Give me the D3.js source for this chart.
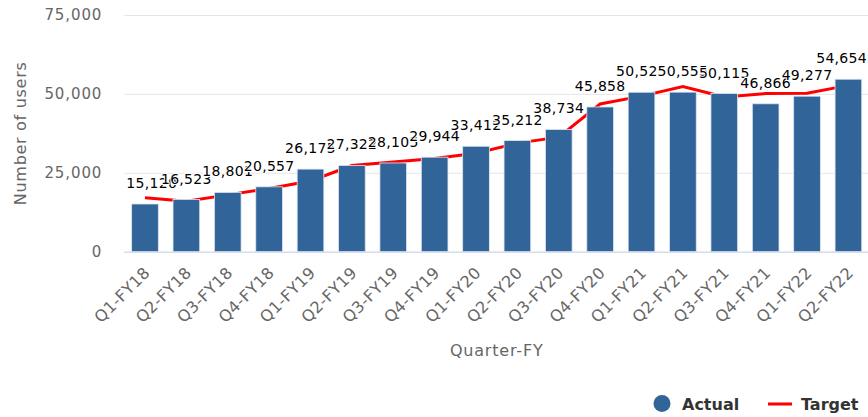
<!DOCTYPE html>
<html>
<head>
<meta charset="utf-8">
<script src="https://cdn.jsdelivr.net/npm/d3@7"></script>
<style>
  body { margin: 0; background: #fff; }
  svg { display: block; font-family: "DejaVu Sans", sans-serif; }
</style>
</head>
<body>
<svg id="chart"></svg>
<script>
const quarters = ['Q1-FY18', 'Q2-FY18', 'Q3-FY18', 'Q4-FY18', 'Q1-FY19', 'Q2-FY19',
  'Q3-FY19', 'Q4-FY19', 'Q1-FY20', 'Q2-FY20', 'Q3-FY20', 'Q4-FY20',
  'Q1-FY21', 'Q2-FY21', 'Q3-FY21', 'Q4-FY21', 'Q1-FY22', 'Q2-FY22'];
const actual = [15120, 16523, 18801, 20557, 26175, 27322, 28105, 29944, 33412,
  35212, 38734, 45858, 50525, 50555, 50115, 46866, 49277, 54654];
const target = [17100, 16000, 18000, 20000, 22400, 27300, 28400, 29500, 31200,
  34400, 36300, 46800, 49300, 52300, 49000, 50100, 50200, 52700];
const yTicks = [0, 25000, 50000, 75000];

const width = 868;
const height = 417;
const plotLeft = 124.3;
const plotRight = 869.1;
const plotTop = 15;
const plotBottom = 251.7;

const svg = d3.select('#chart')
  .attr('width', width)
  .attr('height', height);

const x = d3.scaleBand()
  .domain(quarters)
  .range([plotLeft, plotRight])
  .paddingInner(0.355)
  .paddingOuter(0.1775);

const y = d3.scaleLinear()
  .domain([0, 75000])
  .range([plotBottom, plotTop]);

const fmt = d3.format(',');
const cx = d => x(d) + x.bandwidth() / 2;

// grid + y labels
const yAxis = svg.append('g')
  .attr('transform', `translate(${plotLeft},0)`)
  .call(d3.axisLeft(y).tickValues(yTicks).tickSize(-(width - plotLeft)).tickFormat(fmt).tickPadding(22));
yAxis.select('.domain').remove();
yAxis.selectAll('.tick line').attr('stroke', '#e6e6e6');
yAxis.selectAll('.tick text')
  .attr('fill', '#666')
  .attr('font-size', 15)
  .attr('letter-spacing', 0.9)
  .attr('font-family', '"DejaVu Sans", sans-serif');

svg.append('text')
  .attr('transform', `translate(26,${(plotTop + plotBottom) / 2}) rotate(-90)`)
  .attr('text-anchor', 'middle')
  .attr('fill', '#666')
  .attr('font-size', 16)
  .attr('letter-spacing', 0.7)
  .text('Number of users');

// target line sits behind the bars
svg.append('path')
  .datum(target)
  .attr('fill', 'none')
  .attr('stroke', '#ff0000')
  .attr('stroke-width', 3)
  .attr('d', d3.line().x((d, i) => cx(quarters[i])).y(d => y(d)));

svg.append('g')
  .selectAll('rect')
  .data(actual)
  .enter().append('rect')
  .attr('x', (d, i) => x(quarters[i]))
  .attr('y', d => y(d))
  .attr('width', x.bandwidth())
  .attr('height', d => y(0) - y(d))
  .attr('fill', '#31659a')
  .attr('stroke', '#dfe6f0')
  .attr('stroke-width', 0.8);

// x axis
const xAxis = svg.append('g')
  .attr('transform', `translate(0,${plotBottom})`)
  .call(d3.axisBottom(x).tickSize(0).tickPadding(0));
xAxis.select('.domain')
  .attr('stroke', '#ccd6eb')
  .attr('d', `M${plotLeft},0.5H${width}`);
xAxis.selectAll('.tick text')
  .attr('fill', '#666')
  .attr('font-size', 16)
  .attr('letter-spacing', 0.4)
  .attr('font-family', '"DejaVu Sans", sans-serif')
  .attr('text-anchor', 'end')
  .attr('dy', null)
  .attr('y', null)
  .attr('transform', 'translate(6,22) rotate(-45)');

svg.append('text')
  .attr('x', (plotLeft + plotRight) / 2)
  .attr('y', 356)
  .attr('text-anchor', 'middle')
  .attr('fill', '#666')
  .attr('font-size', 16)
  .attr('letter-spacing', 0.8)
  .text('Quarter-FY');

// value labels, kept inside the plot like the original
const labels = svg.append('g')
  .selectAll('text')
  .data(actual)
  .enter().append('text')
  .attr('x', (d, i) => cx(quarters[i]))
  .attr('y', d => y(d) - 16)
  .attr('text-anchor', 'middle')
  .attr('font-size', 14)
  .attr('letter-spacing', 0.3)
  .attr('fill', '#000')
  .attr('stroke', '#fff')
  .attr('stroke-width', 2)
  .attr('paint-order', 'stroke')
  .text(d => fmt(d));

labels.each(function (d, i) {
  const w = this.getComputedTextLength();
  let px = cx(quarters[i]);
  px = Math.max(px, plotLeft + 2 + w / 2);
  px = Math.min(px, width - 1 - w / 2);
  d3.select(this).attr('x', px);
});

// legend
const legend = svg.append('g');
legend.append('circle')
  .attr('cx', 662).attr('cy', 403.5).attr('r', 8.5)
  .attr('fill', '#31659a');
legend.append('text')
  .attr('x', 682).attr('y', 410)
  .attr('font-size', 16).attr('font-weight', 'bold').attr('fill', '#333')
  .text('Actual');
legend.append('line')
  .attr('x1', 768).attr('x2', 792).attr('y1', 404).attr('y2', 404)
  .attr('stroke', '#ff0000').attr('stroke-width', 3);
legend.append('text')
  .attr('x', 801).attr('y', 410)
  .attr('font-size', 16).attr('font-weight', 'bold').attr('fill', '#333')
  .text('Target');
</script>
</body>
</html>
